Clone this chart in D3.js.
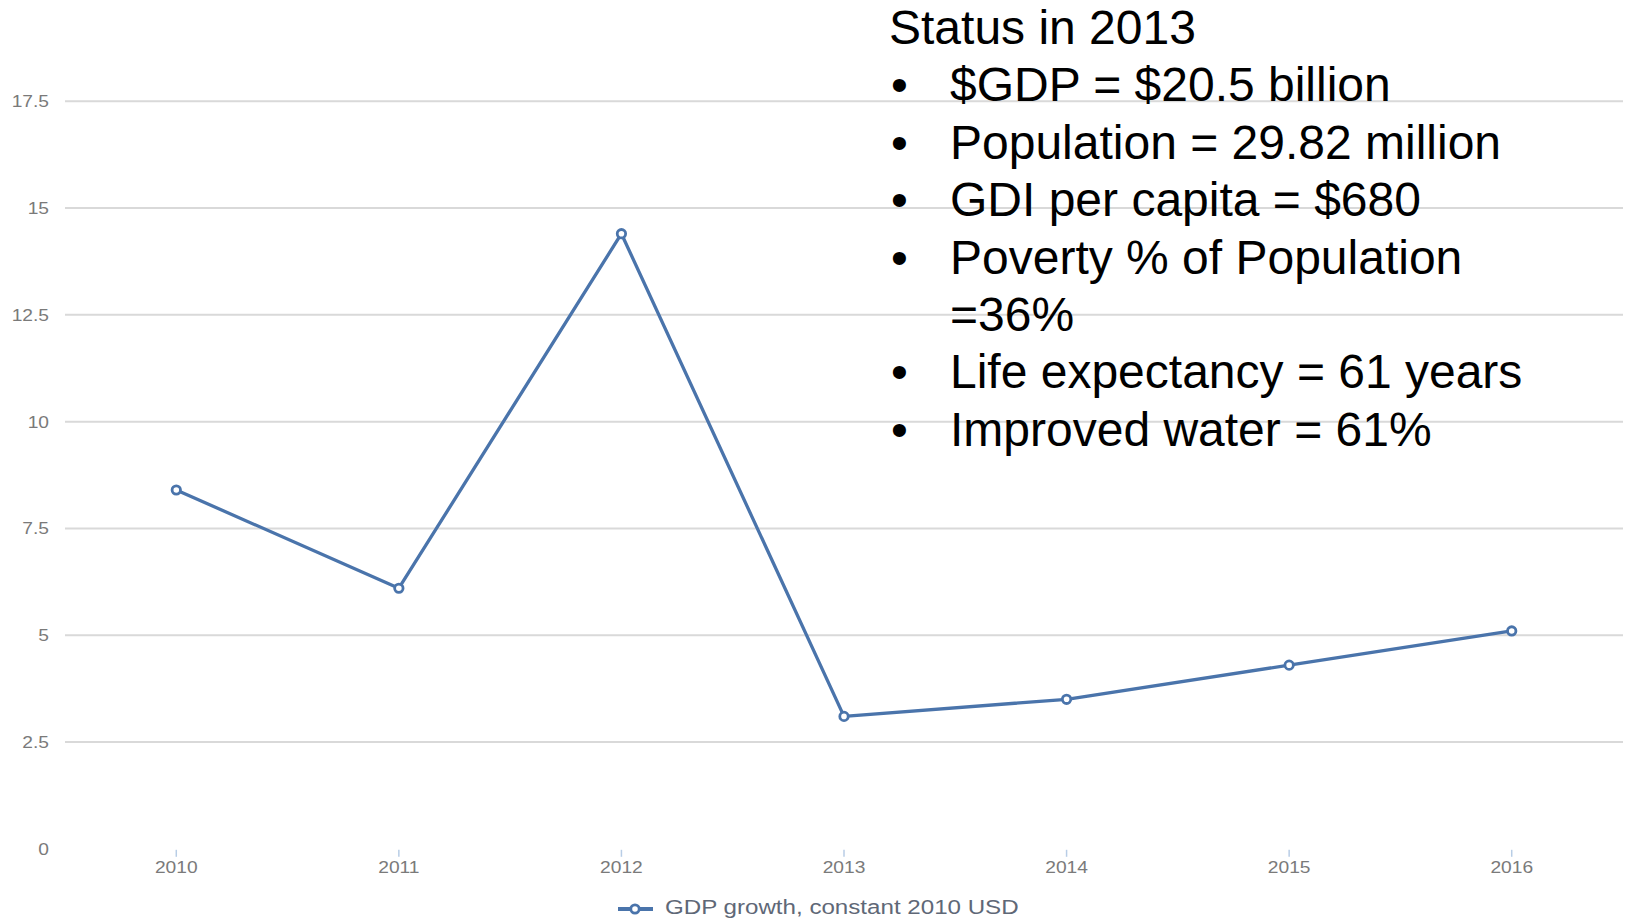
<!DOCTYPE html>
<html>
<head>
<meta charset="utf-8">
<script src="https://cdn.jsdelivr.net/npm/d3@7"></script>
<style>
  html, body { margin: 0; padding: 0; background: #fff; }
  svg { display: block; }
</style>
</head>
<body>
<svg id="chart" width="1637" height="919"></svg>
<script>
// ---- data ----
const years = ["2010", "2011", "2012", "2013", "2014", "2015", "2016"];
const gdpGrowth = [8.4, 6.1, 14.4, 3.1, 3.5, 4.3, 5.1];
const yTicks = [0, 2.5, 5, 7.5, 10, 12.5, 15, 17.5];
const seriesName = "GDP growth, constant 2010 USD";
const noteTitle = "Status in 2013";
const noteLines = [
  {bullet: true,  text: "$GDP = $20.5 billion"},
  {bullet: true,  text: "Population = 29.82 million"},
  {bullet: true,  text: "GDI per capita = $680"},
  {bullet: true,  text: "Poverty % of Population"},
  {bullet: false, text: "=36%"},
  {bullet: true,  text: "Life expectancy = 61 years"},
  {bullet: true,  text: "Improved water = 61%"}
];

(function () {
// ---- layout ----
const svg = d3.select("#chart");
const W = 1637, H = 919;
svg.append("rect").attr("width", W).attr("height", H).attr("fill", "#fff");

const plotL = 65, plotR = 1623, plotT = 101.3, plotB = 848.8;
const x = d3.scalePoint().domain(years).range([plotL, plotR]).padding(0.5);
const y = d3.scaleLinear().domain([0, 17.5]).range([plotB, plotT]);
const lineColor = "#4a74ab";
const stretch = 1.2;

// gridlines
svg.append("g").selectAll("line")
  .data(yTicks.filter(d => d > 0))
  .join("line")
  .attr("x1", plotL).attr("x2", plotR)
  .attr("y1", d => y(d)).attr("y2", d => y(d))
  .attr("stroke", "#d9d9d9").attr("stroke-width", 2);

// y labels
svg.append("g").selectAll("text")
  .data(yTicks)
  .join("text")
  .attr("transform", d => `translate(49,${y(d) + 6}) scale(${stretch},1)`)
  .attr("text-anchor", "end")
  .attr("font-family", "Liberation Sans, Arial, sans-serif")
  .attr("font-size", 16)
  .attr("fill", "#7a7a7a")
  .text(d => d3.format("~g")(d));

// x ticks
svg.append("g").selectAll("line")
  .data(years)
  .join("line")
  .attr("x1", d => x(d)).attr("x2", d => x(d))
  .attr("y1", plotB + 1).attr("y2", plotB + 8)
  .attr("stroke", "#b8cde6").attr("stroke-width", 1.5);

// x labels
svg.append("g").selectAll("text")
  .data(years)
  .join("text")
  .attr("transform", d => `translate(${x(d)},873) scale(${stretch},1)`)
  .attr("text-anchor", "middle")
  .attr("font-family", "Liberation Sans, Arial, sans-serif")
  .attr("font-size", 16)
  .attr("fill", "#7a7a7a")
  .text(d => d);

// line
const pts = years.map((yr, i) => ({yr, v: gdpGrowth[i]}));
svg.append("path")
  .datum(pts)
  .attr("fill", "none")
  .attr("stroke", lineColor)
  .attr("stroke-width", 3.3)
  .attr("stroke-linejoin", "round")
  .attr("d", d3.line().x(d => x(d.yr)).y(d => y(d.v)));

svg.append("g").selectAll("circle")
  .data(pts)
  .join("circle")
  .attr("cx", d => x(d.yr)).attr("cy", d => y(d.v))
  .attr("r", 4.2)
  .attr("fill", "#fff")
  .attr("stroke", lineColor)
  .attr("stroke-width", 2.8);

// legend
const lg = svg.append("g");
lg.append("line").attr("x1", 618).attr("x2", 653).attr("y1", 909).attr("y2", 909)
  .attr("stroke", lineColor).attr("stroke-width", 3.8);
lg.append("circle").attr("cx", 635).attr("cy", 909).attr("r", 4.2)
  .attr("fill", "#fff").attr("stroke", lineColor).attr("stroke-width", 2.8);
lg.append("text")
  .attr("transform", `translate(665,914) scale(1.15,1)`)
  .attr("font-family", "Liberation Sans, Arial, sans-serif")
  .attr("font-size", 21)
  .attr("fill", "#5f6877")
  .text(seriesName);

// note text block
const tg = svg.append("g")
  .attr("font-family", "Liberation Sans, Arial, sans-serif")
  .attr("font-size", 48)
  .attr("fill", "#000");
const lineH = 57.4, base0 = 44;
tg.append("text").attr("x", 889).attr("y", base0).text(noteTitle);
noteLines.forEach((ln, i) => {
  const by = base0 + lineH * (i + 1);
  if (ln.bullet) tg.append("text").attr("x", 891).attr("y", by).text("\u2022");
  tg.append("text").attr("x", 950).attr("y", by).text(ln.text);
});
})();
</script>
</body>
</html>
